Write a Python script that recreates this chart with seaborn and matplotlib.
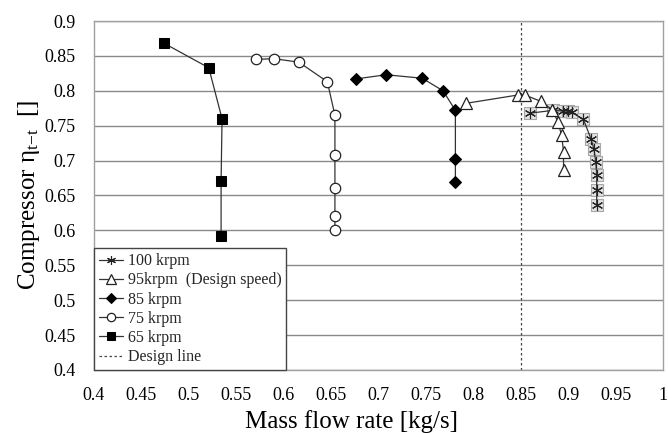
import numpy as np
import pandas as pd
import seaborn as sns
import matplotlib
matplotlib.use("Agg")
import matplotlib.pyplot as plt

# Compressor map: total-to-total efficiency vs mass flow rate, per speed line
flow_100 = [0.860, 0.884, 0.894, 0.900, 0.904, 0.916, 0.924, 0.927, 0.929, 0.930, 0.930, 0.930]
eff_100 = [0.768, 0.772, 0.771, 0.771, 0.769, 0.759, 0.731, 0.717, 0.698, 0.679, 0.658, 0.637]

flow_95 = [0.792, 0.847, 0.854, 0.871, 0.883, 0.889, 0.893, 0.895, 0.895]
eff_95 = [0.782, 0.794, 0.794, 0.785, 0.773, 0.756, 0.736, 0.713, 0.687]

flow_85 = [0.676, 0.708, 0.746, 0.768, 0.781, 0.781, 0.781]
eff_85 = [0.817, 0.823, 0.818, 0.800, 0.772, 0.702, 0.669]

flow_75 = [0.571, 0.590, 0.616, 0.646, 0.654, 0.654, 0.654, 0.654, 0.654]
eff_75 = [0.845, 0.846, 0.841, 0.813, 0.765, 0.708, 0.661, 0.621, 0.600]

flow_65 = [0.474, 0.521, 0.535, 0.534, 0.534]
eff_65 = [0.868, 0.833, 0.760, 0.671, 0.592]

design_flow = 0.85

x_ticks = [0.4, 0.45, 0.5, 0.55, 0.6, 0.65, 0.7, 0.75, 0.8, 0.85, 0.9, 0.95, 1.0]
x_ticklabels = ["0.4", "0.45", "0.5", "0.55", "0.6", "0.65", "0.7", "0.75", "0.8", "0.85", "0.9", "0.95", "1"]
y_ticks = [0.4, 0.45, 0.5, 0.55, 0.6, 0.65, 0.7, 0.75, 0.8, 0.85, 0.9]
y_ticklabels = ["0.4", "0.45", "0.5", "0.55", "0.6", "0.65", "0.7", "0.75", "0.8", "0.85", "0.9"]

sns.set_theme(style="white")
plt.rcParams["font.family"] = ["Liberation Serif", "DejaVu Serif"]
plt.rcParams["mathtext.fontset"] = "custom"
plt.rcParams["mathtext.rm"] = "Liberation Serif"
plt.rcParams["mathtext.it"] = "Liberation Serif:italic"

fig = plt.figure(figsize=(6.68, 4.33), dpi=100)
ax = fig.add_axes([0.1407, 0.1455, 0.852, 0.806])

line_kw = dict(color="#333333", linewidth=0.9, sort=False, estimator=None, ax=ax)

# 100 krpm: asterisks sitting on pale grey boxes
df100 = pd.DataFrame({"flow": flow_100, "eff": eff_100})
sns.scatterplot(data=df100, x="flow", y="eff", marker="s", s=85, color="#e2e2e2",
                edgecolor="#a8a8a8", linewidth=0.8, ax=ax, legend=False, zorder=2)
sns.lineplot(data=df100, x="flow", y="eff", marker=(6, 2, 0), markersize=8,
             markeredgecolor="#222222", markeredgewidth=0.8, label="100 krpm",
             zorder=3, **line_kw)

sns.lineplot(data=pd.DataFrame({"flow": flow_95, "eff": eff_95}), x="flow", y="eff",
             marker="^", markersize=8.5, markerfacecolor="white", markeredgecolor="#222222",
             markeredgewidth=0.9, label="95krpm  (Design speed)", zorder=4, **line_kw)

sns.lineplot(data=pd.DataFrame({"flow": flow_85, "eff": eff_85}), x="flow", y="eff",
             marker="D", markersize=6.5, markerfacecolor="black", markeredgecolor="black",
             label="85 krpm", zorder=4, **line_kw)

sns.lineplot(data=pd.DataFrame({"flow": flow_75, "eff": eff_75}), x="flow", y="eff",
             marker="o", markersize=7.5, markerfacecolor="white", markeredgecolor="#222222",
             markeredgewidth=0.9, label="75 krpm", zorder=4, **line_kw)

sns.lineplot(data=pd.DataFrame({"flow": flow_65, "eff": eff_65}), x="flow", y="eff",
             marker="s", markersize=7.5, markerfacecolor="black", markeredgecolor="black",
             label="65 krpm", zorder=4, **line_kw)

ax.axvline(design_flow, color="#444444", linestyle=(0, (2, 2)), linewidth=0.9,
           label="Design line", zorder=1)

ax.set_xlim(0.4, 1.0)
ax.set_ylim(0.4, 0.9)
ax.set_xticks(x_ticks)
ax.set_xticklabels(x_ticklabels)
ax.set_yticks(y_ticks)
ax.set_yticklabels(y_ticklabels)
ax.tick_params(axis="x", length=0, labelsize=13, colors="black", pad=12)
ax.tick_params(axis="y", length=0, labelsize=13, colors="black", pad=13)
ax.yaxis.grid(True, color="#8a8a8a", linewidth=1.0)
ax.xaxis.grid(False)
ax.set_axisbelow(True)
for sp in ax.spines.values():
    sp.set_color("#a0a0a0")
    sp.set_linewidth(1.0)

ax.set_xlabel("Mass flow rate [kg/s]", fontsize=18, color="black")
ax.xaxis.set_label_coords(0.452, -0.115)
ax.set_ylabel(r"Compressor η$_{\mathregular{t{-}t}}$  []", fontsize=18, color="black")
ax.yaxis.set_label_coords(-0.092, 0.5)

leg = ax.legend(loc="lower left", borderaxespad=0.0, fontsize=11.5, frameon=True,
                fancybox=False, framealpha=1, edgecolor="#444444", handlelength=1.5,
                handletextpad=0.3, labelspacing=0.2, borderpad=0.3, markerscale=0.8)
leg.get_frame().set_linewidth(1.0)

fig.savefig("out.png", dpi=100, facecolor="white")
